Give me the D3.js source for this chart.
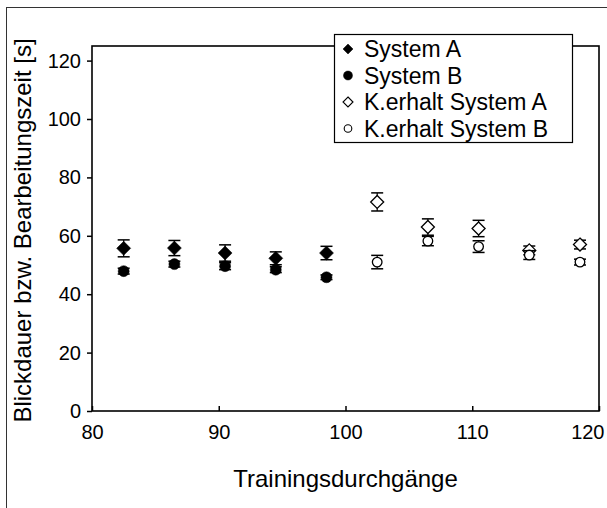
<!DOCTYPE html>
<html>
<head>
<meta charset="utf-8">
<script src="https://cdn.jsdelivr.net/npm/d3@7"></script>
<style>
  html, body { margin: 0; padding: 0; background: #fff; }
  svg text { font-family: "Liberation Sans", Arial, sans-serif; fill: #000; }
</style>
</head>
<body>
<svg id="chart" width="607" height="508"></svg>
<script>
// Training runs (x positions) for the two phases
const trainingRuns = [82.5, 86.5, 90.5, 94.5, 98.5];
const retentionRuns = [102.5, 106.5, 110.5, 114.5, 118.5];

// Mean gaze / processing time [s] and error half-widths
const systemA = [55.7, 55.8, 54.1, 52.3, 54.1];
const systemAErr = [2.9, 2.6, 2.8, 2.2, 2.3];
const systemB = [47.9, 50.3, 49.6, 48.4, 45.8];
const systemBErr = [1.0, 1.0, 1.2, 1.0, 0.8];
const retentionA = [71.6, 63.0, 62.5, 55.0, 57.0];
const retentionAErr = [3.1, 2.8, 2.8, 1.5, 1.5];
const retentionB = [51.0, 58.2, 56.3, 53.4, 51.0];
const retentionBErr = [2.3, 1.6, 2.0, 1.5, 1.0];

const xTicks = [80, 90, 100, 110, 120];
const yTicks = [0, 20, 40, 60, 80, 100, 120];

const legendLabels = ["System A", "System B", "K.erhalt System A", "K.erhalt System B"];

const svg = d3.select("#chart");

// outer frame
svg.append("rect")
  .attr("x", 6.5).attr("y", 7.5).attr("width", 620).attr("height", 520)
  .attr("fill", "none").attr("stroke", "#333").attr("stroke-width", 1);

const plot = { left: 92, right: 599, top: 46, bottom: 411 };

const x = d3.scaleLinear().domain([80, 120]).range([plot.left, plot.right]);
const y = d3.scaleLinear().domain([0, 125]).range([plot.bottom, plot.top]);

// plot border
svg.append("rect")
  .attr("x", plot.left).attr("y", plot.top)
  .attr("width", plot.right - plot.left).attr("height", plot.bottom - plot.top)
  .attr("fill", "none").attr("stroke", "#000").attr("stroke-width", 1.6);

// y axis
const yAxis = svg.append("g")
  .attr("transform", `translate(${plot.left},0)`)
  .call(d3.axisLeft(y).tickValues(yTicks).tickSize(5).tickPadding(6));
yAxis.select(".domain").remove();
yAxis.selectAll("line").attr("stroke", "#000").attr("stroke-width", 1.5);
yAxis.selectAll("text").style("font-size", "20px");

// x axis (ticks point into the plot)
const xAxis = svg.append("g")
  .attr("transform", `translate(0,${plot.bottom})`)
  .call(d3.axisBottom(x).tickValues(xTicks).tickSizeInner(-5).tickSizeOuter(0).tickPadding(14));
xAxis.select(".domain").remove();
xAxis.selectAll("line").attr("stroke", "#000").attr("stroke-width", 1.5);
xAxis.selectAll("text").style("font-size", "20px");
// keep the last label inside the frame
xAxis.selectAll(".tick").filter(d => d === 120).select("text")
  .attr("text-anchor", "end").attr("x", 604 - x(120));

// axis titles
svg.append("text")
  .attr("x", x(100)).attr("y", 487)
  .attr("text-anchor", "middle").style("font-size", "24px")
  .text("Trainingsdurchgänge");

svg.append("text")
  .attr("transform", `translate(31,${(plot.top + plot.bottom) / 2 + 2}) rotate(-90)`)
  .attr("text-anchor", "middle").style("font-size", "24px")
  .text("Blickdauer bzw. Bearbeitungszeit [s]");

const diamond = s => `M0,${-s}L${s},0L0,${s}L${-s},0Z`;

const series = [
  { xs: trainingRuns, ys: systemA, err: systemAErr, shape: "diamond", filled: true },
  { xs: trainingRuns, ys: systemB, err: systemBErr, shape: "circle", filled: true },
  { xs: retentionRuns, ys: retentionA, err: retentionAErr, shape: "diamond", filled: false },
  { xs: retentionRuns, ys: retentionB, err: retentionBErr, shape: "circle", filled: false }
];

const cap = 6;
series.forEach(s => {
  const g = svg.append("g");
  const pts = s.xs.map((xv, i) => ({ x: xv, y: s.ys[i], e: s.err[i] }));
  // error bars
  const eb = g.selectAll("g.eb").data(pts).join("g").attr("class", "eb");
  eb.append("line")
    .attr("x1", d => x(d.x)).attr("x2", d => x(d.x))
    .attr("y1", d => y(d.y + d.e)).attr("y2", d => y(d.y - d.e))
    .attr("stroke", "#000").attr("stroke-width", 1.2);
  [1, -1].forEach(sign => {
    eb.append("line")
      .attr("x1", d => x(d.x) - cap).attr("x2", d => x(d.x) + cap)
      .attr("y1", d => y(d.y + sign * d.e)).attr("y2", d => y(d.y + sign * d.e))
      .attr("stroke", "#000").attr("stroke-width", 1.5);
  });
  // markers
  g.selectAll("path.m").data(pts).join("path").attr("class", "m")
    .attr("transform", d => `translate(${x(d.x)},${y(d.y)})`)
    .attr("d", s.shape === "diamond" ? diamond(s.filled ? 7 : 6.5) : d3.arc()({innerRadius: 0, outerRadius: s.filled ? 5.5 : 4.8, startAngle: 0, endAngle: 2 * Math.PI}))
    .attr("fill", s.filled ? "#000" : "#fff")
    .attr("stroke", "#000").attr("stroke-width", s.filled ? 0.5 : 1.3);
});

// legend
const lg = svg.append("g");
lg.append("rect")
  .attr("x", 334.5).attr("y", 34.5).attr("width", 238).attr("height", 108)
  .attr("fill", "#fff").attr("stroke", "#000").attr("stroke-width", 1.2);
const legendShapes = ["diamond", "circle", "diamond", "circle"];
const legendFilled = [true, true, false, false];
legendLabels.forEach((lab, i) => {
  const cy = 49 + i * 26.5;
  const shape = legendShapes[i];
  lg.append("path")
    .attr("transform", `translate(348,${cy})`)
    .attr("d", shape === "diamond" ? diamond(5) : d3.arc()({innerRadius: 0, outerRadius: legendFilled[i] ? 4.5 : 3.8, startAngle: 0, endAngle: 2 * Math.PI}))
    .attr("fill", legendFilled[i] ? "#000" : "#fff")
    .attr("stroke", "#000").attr("stroke-width", legendFilled[i] ? 0.5 : 1.1);
  lg.append("text")
    .attr("x", 364).attr("y", cy).attr("dy", "0.36em")
    .style("font-size", "23px")
    .text(lab);
});
</script>
</body>
</html>
